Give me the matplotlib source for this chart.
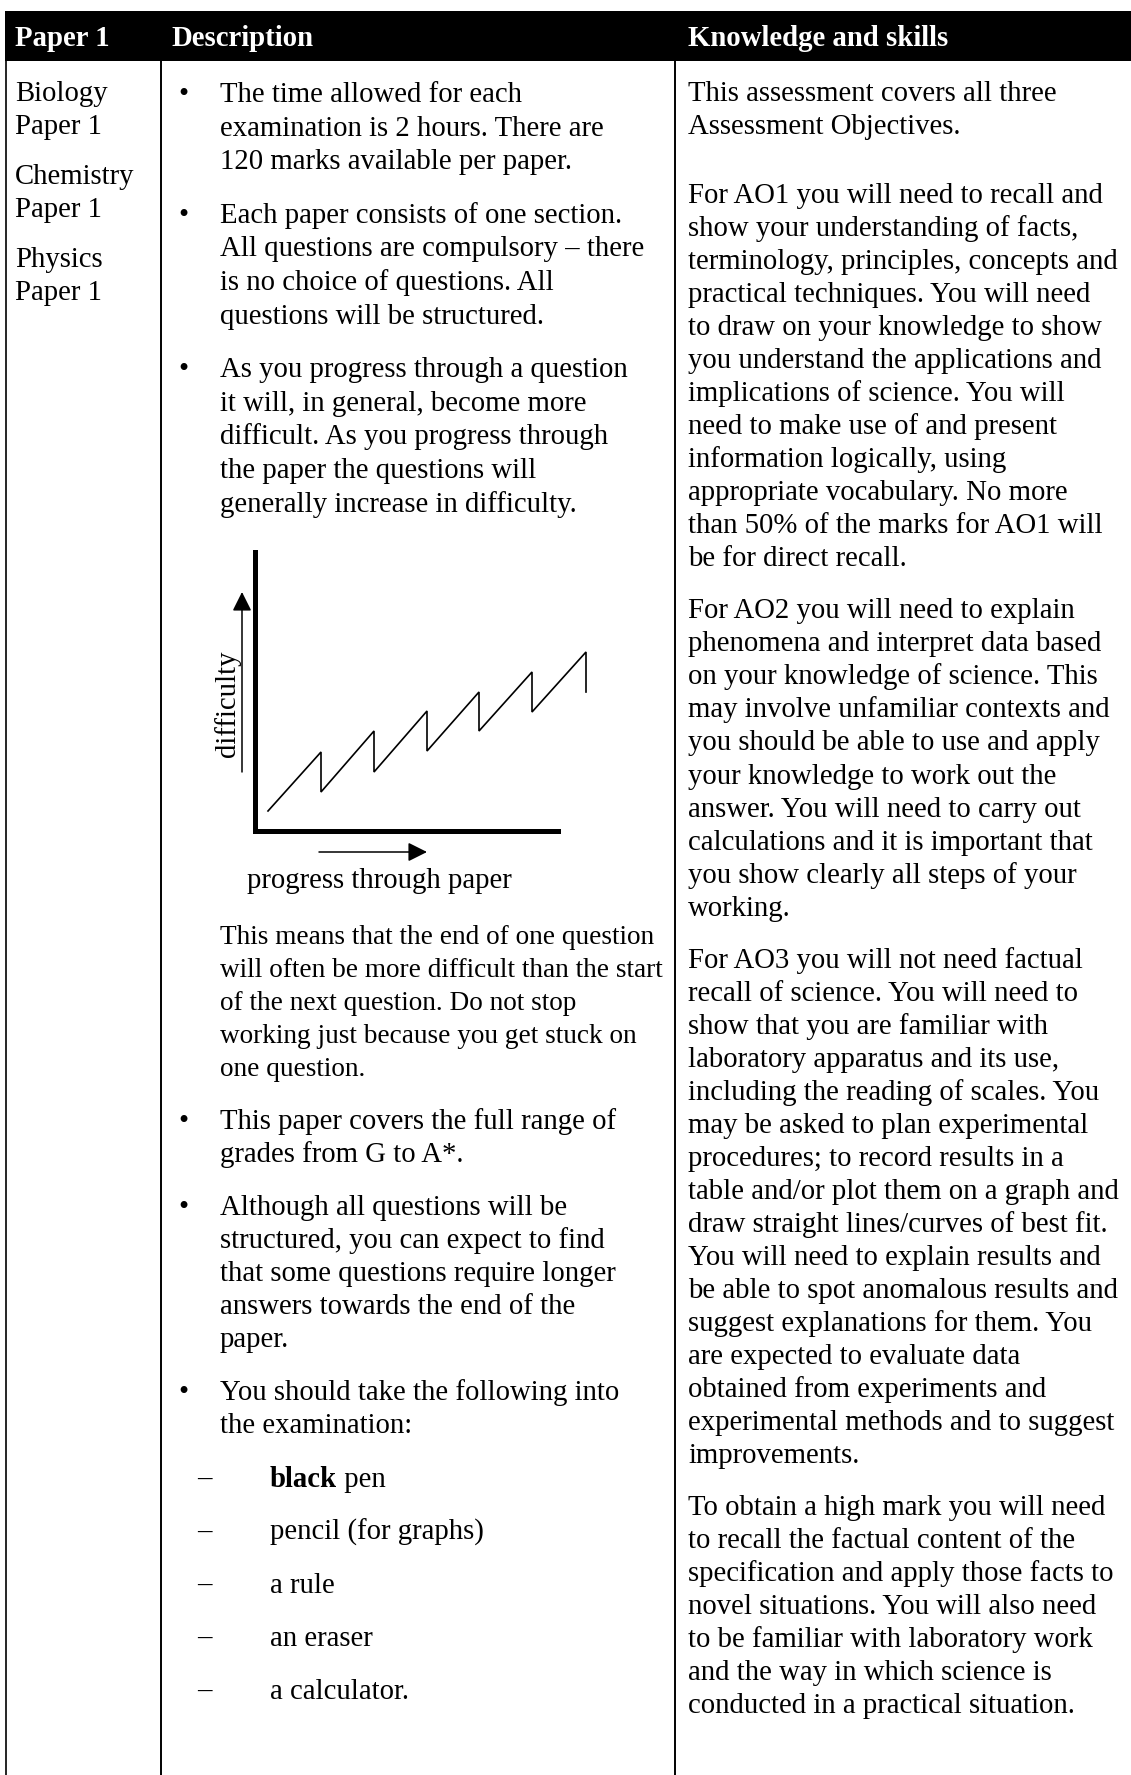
import matplotlib
matplotlib.use("Agg")
import matplotlib.pyplot as plt
from matplotlib.patches import Rectangle

# ---------------- data ----------------
header_labels = ["Paper 1", "Description", "Knowledge and skills"]

papers = [["Biology", "Paper 1"], ["Chemistry", "Paper 1"], ["Physics", "Paper 1"]]

bullets_top = [
    ["The time allowed for each", "examination is 2 hours. There are",
     "120 marks available per paper."],
    ["Each paper consists of one section.", "All questions are compulsory \u2013 there",
     "is no choice of questions. All", "questions will be structured."],
    ["As you progress through a question", "it will, in general, become more",
     "difficult. As you progress through", "the paper the questions will",
     "generally increase in difficulty."],
]

middle_para = ["This means that the end of one question",
               "will often be more difficult than the start",
               "of the next question. Do not stop",
               "working just because you get stuck on",
               "one question."]

bullets_bottom = [
    ["This paper covers the full range of", "grades from G to A*."],
    ["Although all questions will be", "structured, you can expect to find",
     "that some questions require longer", "answers towards the end of the", "paper."],
    ["You should take the following into", "the examination:"],
]

items_bold = ["black", "", "", "", ""]
items_rest = [" pen", "pencil (for graphs)", "a rule", "an eraser", "a calculator."]

knowledge_paras = [
    ["This assessment covers all three", "Assessment Objectives."],
    [],
    ["For AO1 you will need to recall and", "show your understanding of facts,",
     "terminology, principles, concepts and", "practical techniques. You will need",
     "to draw on your knowledge to show", "you understand the applications and",
     "implications of science. You will", "need to make use of and present",
     "information logically, using", "appropriate vocabulary. No more",
     "than 50% of the marks for AO1 will", "be for direct recall."],
    ["For AO2 you will need to explain", "phenomena and interpret data based",
     "on your knowledge of science. This", "may involve unfamiliar contexts and",
     "you should be able to use and apply", "your knowledge to work out the",
     "answer. You will need to carry out", "calculations and it is important that",
     "you show clearly all steps of your", "working."],
    ["For AO3 you will not need factual", "recall of science. You will need to",
     "show that you are familiar with", "laboratory apparatus and its use,",
     "including the reading of scales. You", "may be asked to plan experimental",
     "procedures; to record results in a", "table and/or plot them on a graph and",
     "draw straight lines/curves of best fit.", "You will need to explain results and",
     "be able to spot anomalous results and", "suggest explanations for them. You",
     "are expected to evaluate data", "obtained from experiments and",
     "experimental methods and to suggest", "improvements."],
    ["To obtain a high mark you will need", "to recall the factual content of the",
     "specification and apply those facts to", "novel situations. You will also need",
     "to be familiar with laboratory work", "and the way in which science is",
     "conducted in a practical situation."],
]

# sawtooth diagram: progress through paper vs difficulty (arbitrary units)
progress = [13, 66, 66, 119, 119, 172, 172, 224, 224, 277, 277, 331, 331]
difficulty = [20, 79, 39, 100, 59, 120, 80, 139, 100, 159, 119, 179, 139]
diagram_xlabel = "progress through paper"
diagram_ylabel = "difficulty"

# ---------------- layout ----------------
W, H = 1131, 1775
FAM = ["Liberation Serif", "DejaVu Serif"]
FS = 20.7
FS_MID = 19.6

fig = plt.figure(figsize=(W / 100, H / 100), dpi=100)
ax = fig.add_axes([0, 0, 1, 1])
ax.set_xlim(0, W)
ax.set_ylim(H, 0)
ax.axis("off")

def txt(x, y, s, **kw):
    kw.setdefault("fontsize", FS)
    kw.setdefault("family", FAM)
    kw.setdefault("color", "black")
    return ax.text(x, y, s, va="baseline", ha=kw.pop("ha", "left"), **kw)

HB = 61  # header bottom
ax.add_patch(Rectangle((5, 11), W - 5, HB - 11, facecolor="black", edgecolor="none"))
for x, s in zip([15, 171, 688], header_labels):
    txt(x, 46, s, color="white", fontweight="bold")

# table lines
for x, lw in [(5.5, 1.2), (161, 1.4), (675, 1.4)]:
    ax.plot([x, x], [HB, H], color="black", lw=lw, solid_capstyle="butt")

# column 1
y = 101
for grp in papers:
    for line in grp:
        txt(15, y, line)
        y += 33
    y += 17

# column 2
X_B, X_T = 183, 220

def bullet_block(blocks, y, lh, gap):
    for blk in blocks:
        txt(X_B, y, "\u2022", ha="center")
        for line in blk:
            txt(X_T, y, line)
            y += lh
        y += gap
    return y

bullet_block(bullets_top, 102, 33.6, 20)

y = 944
for line in middle_para:
    txt(X_T, y, line, fontsize=FS_MID)
    y += 33
y += 20
y = bullet_block(bullets_bottom, y, 33, 20)

renderer = fig.canvas.get_renderer()
y += 1
for b, r in zip(items_bold, items_rest):
    txt(197, y, "\u2013")
    x = 270
    if b:
        t = txt(x, y, b, fontweight="bold")
        bb = t.get_window_extent(renderer)
        x = ax.transData.inverted().transform((bb.x1, 0))[0]
    txt(x, y, r)
    y += 53

# column 3
y = 101
for para in knowledge_paras:
    if not para:
        y += 17
        continue
    for line in para:
        txt(688, y, line)
        y += 33.05
    y += 18.8

# ---------------- diagram ----------------
ox, oy, dw, dh = 255, 831, 345, 279
axd = fig.add_axes([ox / W, (H - oy) / H, dw / W, dh / H])
axd.set_xlim(0, dw)
axd.set_ylim(0, dh)
axd.patch.set_alpha(0)
axd.set_xticks([])
axd.set_yticks([])
for s in ["top", "right"]:
    axd.spines[s].set_visible(False)
for s in ["left", "bottom"]:
    axd.spines[s].set_linewidth(3.6)
    axd.spines[s].set_capstyle("projecting")
axd.spines["bottom"].set_bounds(0, 303)
axd.spines["left"].set_bounds(0, dh)

axd.plot(progress, difficulty, color="black", lw=1.2, clip_on=False,
         solid_joinstyle="miter")

arrow = dict(arrowstyle="-|>", lw=1.1, color="black", mutation_scale=29,
             shrinkA=0, shrinkB=0)
axd.annotate("", xy=(-13, 239), xytext=(-13, 59), arrowprops=arrow,
             annotation_clip=False)
axd.annotate("", xy=(172, -21), xytext=(64, -21), arrowprops=arrow,
             annotation_clip=False)
axd.text(-27, 127, diagram_ylabel, rotation=90, ha="center", va="center",
         fontsize=FS, family=FAM, clip_on=False)
axd.text(124, -57, diagram_xlabel, ha="center", va="baseline",
         fontsize=FS, family=FAM, clip_on=False)

fig.savefig("out.png", dpi=100, facecolor="white")
